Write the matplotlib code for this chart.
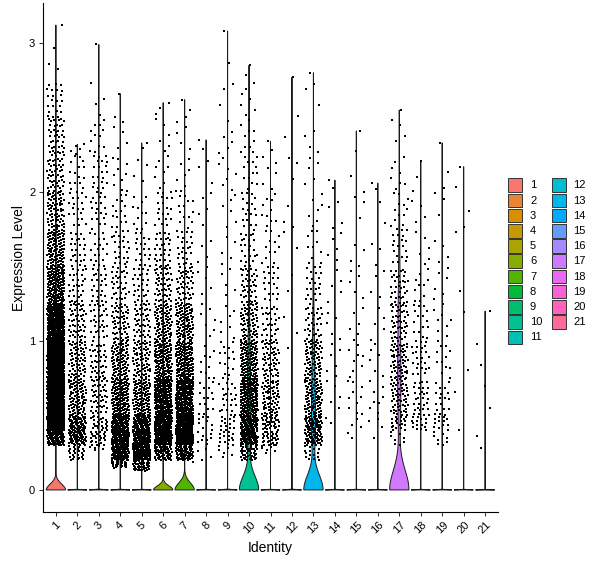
# Violin plot of expression level per identity (Seurat style VlnPlot)

import numpy as np
import matplotlib
matplotlib.use('Agg')
import matplotlib.pyplot as plt
from matplotlib.patches import Rectangle

plt.rcParams['font.family'] = ['Liberation Sans', 'DejaVu Sans']

# identities (clusters)
identities = [str(i) for i in range(1, 22)]

# expression bins, counts of expressing cells per bin
bin_edges = [0.0, 0.1, 0.2, 0.3, 0.4, 0.5, 0.75, 1.0, 1.25, 1.5, 1.75, 2.0, 2.25, 2.5, 2.75, 3.0, 3.25]
bin_counts = [
    [0, 0, 0, 90, 220, 520, 470, 260, 170, 110, 70, 50, 40, 22, 3, 1],    # 1
    [0, 0, 25, 60, 60, 90, 65, 50, 30, 25, 20, 15, 5, 0, 0, 0],          # 2
    [0, 0, 5, 25, 25, 45, 40, 32, 25, 20, 20, 20, 12, 4, 1, 0],          # 3
    [0, 25, 110, 130, 100, 150, 90, 55, 35, 25, 15, 10, 5, 2, 0, 0],     # 4
    [0, 40, 130, 120, 90, 120, 70, 45, 28, 20, 12, 4, 2, 0, 0, 0],       # 5
    [0, 0, 60, 140, 130, 220, 140, 85, 50, 30, 20, 8, 6, 3, 0, 0],       # 6
    [0, 0, 70, 150, 140, 230, 150, 95, 50, 25, 13, 8, 5, 3, 0, 0],       # 7
    [0, 0, 4, 8, 8, 15, 10, 7, 5, 4, 5, 3, 2, 0, 0, 0],                  # 8
    [0, 0, 6, 14, 14, 25, 15, 7, 5, 5, 6, 7, 6, 3, 1, 1],                # 9
    [0, 0, 40, 100, 90, 190, 130, 70, 40, 25, 18, 13, 10, 7, 2, 0],      # 10
    [0, 0, 6, 30, 35, 70, 55, 32, 20, 12, 10, 6, 2, 0, 0, 0],            # 11
    [0, 0, 0, 0, 0, 0, 1, 2, 2, 2, 3, 3, 1, 1, 1, 0],                    # 12
    [0, 0, 15, 50, 55, 95, 70, 35, 22, 10, 7, 5, 4, 3, 1, 0],            # 13
    [0, 0, 0, 0, 2, 5, 6, 5, 5, 5, 4, 2, 0, 0, 0, 0],                    # 14
    [0, 0, 0, 2, 3, 10, 8, 6, 5, 4, 3, 2, 2, 0, 0, 0],                   # 15
    [0, 0, 0, 1, 3, 8, 6, 5, 4, 3, 2, 2, 0, 0, 0, 0],                    # 16
    [0, 0, 0, 8, 20, 60, 60, 45, 35, 20, 12, 8, 4, 1, 0, 0],             # 17
    [0, 0, 0, 0, 15, 30, 25, 15, 10, 6, 4, 3, 0, 0, 0, 0],               # 18
    [0, 0, 0, 8, 12, 18, 12, 8, 6, 4, 3, 2, 1, 0, 0, 0],                 # 19
    [0, 0, 0, 0, 1, 1, 1, 1, 1, 1, 2, 2, 0, 0, 0, 0],                    # 20
    [0, 0, 1, 1, 0, 2, 2, 1, 0, 0, 0, 0, 0, 0, 0, 0],                    # 21
]
# lowest and highest non-zero value per identity
y_min = [0.30, 0.20, 0.27, 0.15, 0.13, 0.20, 0.19, 0.20, 0.22, 0.20, 0.25,
         0.95, 0.20, 0.45, 0.35, 0.35, 0.30, 0.40, 0.30, 0.40, 0.28]
y_max = [3.12, 2.32, 2.99, 2.66, 2.33, 2.60, 2.62, 2.35, 3.08, 2.85, 2.34,
         2.77, 2.80, 2.08, 2.41, 2.06, 2.55, 2.21, 2.33, 2.17, 1.20]
# cells with zero expression (not drawn as points, only shape the violins)
n_zero = [5900, 2800, 3000, 3500, 3500, 2650, 2230, 1500, 1400, 950, 1200,
          1100, 520, 900, 800, 700, 480, 500, 450, 300, 200]


def hue_colors(n, c=100, l=65):
    # ggplot2 default hue palette (hcl -> sRGB)
    hues = np.linspace(15, 375, n + 1)[:n] % 360
    Xn, Yn, Zn = 95.047, 100.0, 108.883
    un = 4 * Xn / (Xn + 15 * Yn + 3 * Zn)
    vn = 9 * Yn / (Xn + 15 * Yn + 3 * Zn)
    out = []
    for h in hues:
        u = c * np.cos(np.deg2rad(h))
        v = c * np.sin(np.deg2rad(h))
        Y = Yn * ((l + 16) / 116) ** 3
        up = u / (13 * l) + un
        vp = v / (13 * l) + vn
        X = Y * 9 * up / (4 * vp)
        Z = Y * (12 - 3 * up - 20 * vp) / (4 * vp)
        X, Y2, Z = X / 100, Y / 100, Z / 100
        rgb = np.array([3.2404542 * X - 1.5371385 * Y2 - 0.4985314 * Z,
                        -0.9692660 * X + 1.8760108 * Y2 + 0.0415560 * Z,
                        0.0556434 * X - 0.2040259 * Y2 + 1.0572252 * Z])
        rgb = np.where(rgb > 0.0031308, 1.055 * np.abs(rgb) ** (1 / 2.4) - 0.055, 12.92 * rgb)
        out.append(tuple(np.clip(rgb, 0, 1)))
    return out


colors = hue_colors(len(identities))

# quasi-random sequence for jitter / spreading inside a bin
A1, A2 = 0.7548776662466927, 0.5698402909980532


def cluster_values(j):
    vals = []
    k = 0
    for b, n in enumerate(bin_counts[j]):
        lo = max(bin_edges[b], y_min[j])
        hi = min(bin_edges[b + 1], y_max[j])
        for _ in range(n):
            k += 1
            vals.append(lo + (hi - lo) * ((0.5 + k * A2) % 1))
    vals = np.array(vals)
    vals[np.argmax(vals)] = y_max[j]
    vals[np.argmin(vals)] = y_min[j]
    return vals


fig = plt.figure(figsize=(6, 5.68), dpi=100)
ax = fig.add_axes([43 / 600, 56 / 568, 455 / 600, 509 / 568])

for j, name in enumerate(identities):
    c = j + 1
    vals = cluster_values(j)
    full = np.concatenate([np.zeros(n_zero[j]), vals])
    q75, q25 = np.percentile(full, [75, 25])
    lo = min(full.std(ddof=1), (q75 - q25) / 1.34)
    bw = 0.9 * lo * len(full) ** -0.2 if lo > 0 else 1e-6
    grid = np.linspace(0, y_max[j], 512)
    dens = n_zero[j] * np.exp(-0.5 * (grid / bw) ** 2)
    dens = dens + np.exp(-0.5 * ((grid[:, None] - vals[None, :]) / bw) ** 2).sum(axis=1)
    w = 0.45 * dens / dens.max()
    px = np.concatenate([c - w, (c + w)[::-1]])
    py = np.concatenate([grid, grid[::-1]])
    ax.fill(px, py, facecolor=colors[j], edgecolor='#1a1a1a', linewidth=0.7, zorder=2)

    # jittered points
    k = np.arange(1, len(vals) + 1)
    jx = c + 0.8 * (((0.5 + k * A1) % 1) - 0.5)
    pts = ax.scatter(jx, vals, s=2.1, marker='s', color='black', linewidths=0, zorder=3)
    pts.set_antialiased(False)

ax.set_xlim(0.4, 21.6)
ax.set_ylim(-0.148, 3.268)
ax.set_xticks(range(1, 22))
ax.set_xticklabels(identities, rotation=45, ha='center', va='top', fontsize=8)
ax.set_yticks([0, 1, 2, 3])
ax.set_yticklabels(['0', '1', '2', '3'], fontsize=8)
ax.tick_params(length=2.6, width=0.75, color='#333333', pad=3)
for s in ['top', 'right']:
    ax.spines[s].set_visible(False)
for s in ['left', 'bottom']:
    ax.spines[s].set_linewidth(0.8)

fig.text(270 / 600, 1 - 548 / 568, 'Identity', ha='center', va='center', fontsize=10)
fig.text(19 / 600, 1 - 258 / 568, 'Expression Level', ha='center', va='center',
         rotation=90, fontsize=10)

# legend drawn by hand, two columns
for i, name in enumerate(identities):
    col, row = i // 11, i % 11
    x0 = 508 + col * 43.5
    y0 = 178.5 + row * 15.2
    fig.patches.append(Rectangle((x0 / 600, 1 - (y0 + 13.5) / 568), 14 / 600, 13.5 / 568,
                                 transform=fig.transFigure, facecolor=colors[i],
                                 edgecolor='#333333', linewidth=0.7))
    fig.text((x0 + 22) / 600, 1 - (y0 + 7) / 568, name, ha='left', va='center', fontsize=8)

fig.savefig('out.png', dpi=100)
